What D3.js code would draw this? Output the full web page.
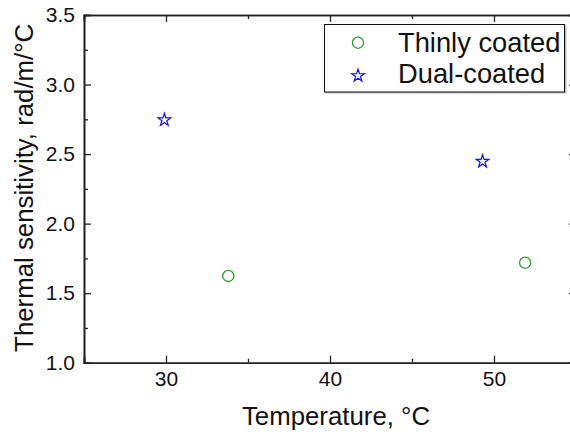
<!DOCTYPE html>
<html>
<head>
<meta charset="utf-8">
<script src="https://cdn.jsdelivr.net/npm/d3@7"></script>
<style>
  body { margin: 0; background: #fff; }
  svg { display: block; font-family: 'Liberation Sans', Arial, sans-serif; }
</style>
</head>
<body>
<div id="chart"></div>
<script>
// data
const thinTemp = [33.8, 51.9]
const thinSens = [1.624, 1.719]
const dualTemp = [29.9, 49.3]
const dualSens = [2.751, 2.453]

const xMajor = [30, 40, 50]
const xMinor = [25, 35, 45, 55]
const yMajor = [1.0, 1.5, 2.0, 2.5, 3.0, 3.5]
const yMinor = [1.25, 1.75, 2.25, 2.75, 3.25]

const seriesNames = ['Thinly coated', 'Dual-coated']

const width = 570
const height = 434
const margin = { top: 15, left: 84 }
const plotW = 492
const plotH = 347.7

const svg = d3
  .select('#chart')
  .append('svg')
  .attr('width', width)
  .attr('height', height)

const x = d3.scaleLinear().domain([25, 55]).range([margin.left, margin.left + plotW])
const y = d3.scaleLinear().domain([1, 3.5]).range([margin.top + plotH, margin.top])

const axisColor = '#222'

const styleAxis = g => {
  g.select('.domain').attr('stroke', axisColor).attr('stroke-width', 1.6)
  g.selectAll('.tick line').attr('stroke', axisColor).attr('stroke-width', 1.3)
  g.selectAll('.tick text')
    .attr('fill', '#111')
    .style('font-size', '21px')
    .style('font-family', "'Liberation Sans', Arial, sans-serif")
}

const bottomY = margin.top + plotH
const rightX = margin.left + plotW

// bottom axis
svg.append('g')
  .attr('transform', `translate(0,${bottomY})`)
  .call(d3.axisBottom(x).tickValues(xMinor).tickSize(-4).tickFormat(''))
  .call(styleAxis)
svg.append('g')
  .attr('transform', `translate(0,${bottomY})`)
  .call(d3.axisBottom(x).tickValues(xMajor).tickSize(-7).tickPadding(8.5).tickFormat(d3.format('d')))
  .call(styleAxis)

// top axis
svg.append('g')
  .attr('transform', `translate(0,${margin.top})`)
  .call(d3.axisTop(x).tickValues(xMinor).tickSize(-4).tickFormat(''))
  .call(styleAxis)
svg.append('g')
  .attr('transform', `translate(0,${margin.top})`)
  .call(d3.axisTop(x).tickValues(xMajor).tickSize(-7).tickFormat(''))
  .call(styleAxis)

// left axis
svg.append('g')
  .attr('transform', `translate(${margin.left},0)`)
  .call(d3.axisLeft(y).tickValues(yMinor).tickSize(-4).tickFormat(''))
  .call(styleAxis)
svg.append('g')
  .attr('transform', `translate(${margin.left},0)`)
  .call(d3.axisLeft(y).tickValues(yMajor).tickSize(-7).tickPadding(9).tickFormat(d3.format('.1f')))
  .call(styleAxis)

// right axis
svg.append('g')
  .attr('transform', `translate(${rightX},0)`)
  .call(d3.axisRight(y).tickValues(yMinor).tickSize(-4).tickFormat(''))
  .call(styleAxis)
svg.append('g')
  .attr('transform', `translate(${rightX},0)`)
  .call(d3.axisRight(y).tickValues(yMajor).tickSize(-7).tickFormat(''))
  .call(styleAxis)

// axis titles
svg.append('text')
  .attr('x', 336)
  .attr('y', 425)
  .attr('text-anchor', 'middle')
  .style('font-size', '25.8px')
  .attr('fill', '#111')
  .text('Temperature, \u00B0C')

svg.append('text')
  .attr('transform', `translate(33,${margin.top + plotH / 2 - 1}) rotate(-90)`)
  .attr('text-anchor', 'middle')
  .style('font-size', '25.8px')
  .attr('fill', '#111')
  .text('Thermal sensitivity, rad/m/\u00B0C')

// markers
const green = '#2a9a2a'
const blue = '#1010ff'
const star = d3.symbol().type(d3.symbolStar).size(50)

const thinData = thinTemp.map((t, i) => ({ t, s: thinSens[i] }))
const dualData = dualTemp.map((t, i) => ({ t, s: dualSens[i] }))

svg.append('g')
  .selectAll('circle')
  .data(thinData)
  .join('circle')
  .attr('cx', d => x(d.t))
  .attr('cy', d => y(d.s))
  .attr('r', 5.6)
  .attr('fill', 'none')
  .attr('stroke', green)
  .attr('stroke-width', 1.3)

svg.append('g')
  .selectAll('path')
  .data(dualData)
  .join('path')
  .attr('transform', d => `translate(${x(d.t)},${y(d.s) + 0.8})`)
  .attr('d', star)
  .attr('fill', 'none')
  .attr('stroke', blue)
  .attr('stroke-width', 1.2)

// legend
const legend = svg.append('g')
legend.append('rect')
  .attr('x', 325.5)
  .attr('y', 25.5)
  .attr('width', 241)
  .attr('height', 68)
  .attr('fill', '#bbb')
legend.append('rect')
  .attr('x', 324.5)
  .attr('y', 24.5)
  .attr('width', 240)
  .attr('height', 67.5)
  .attr('fill', '#fff')
  .attr('stroke', '#111')
  .attr('stroke-width', 1)

legend.append('circle')
  .attr('cx', 358)
  .attr('cy', 42.7)
  .attr('r', 5.6)
  .attr('fill', 'none')
  .attr('stroke', green)
  .attr('stroke-width', 1.3)
legend.append('path')
  .attr('transform', 'translate(358,75.8)')
  .attr('d', star)
  .attr('fill', 'none')
  .attr('stroke', blue)
  .attr('stroke-width', 1.2)

legend.selectAll('text')
  .data(seriesNames)
  .join('text')
  .attr('x', 398)
  .attr('y', (d, i) => 51.7 + i * 31.6)
  .style('font-size', '27.3px')
  .attr('fill', '#111')
  .text(d => d)
</script>
</body>
</html>
